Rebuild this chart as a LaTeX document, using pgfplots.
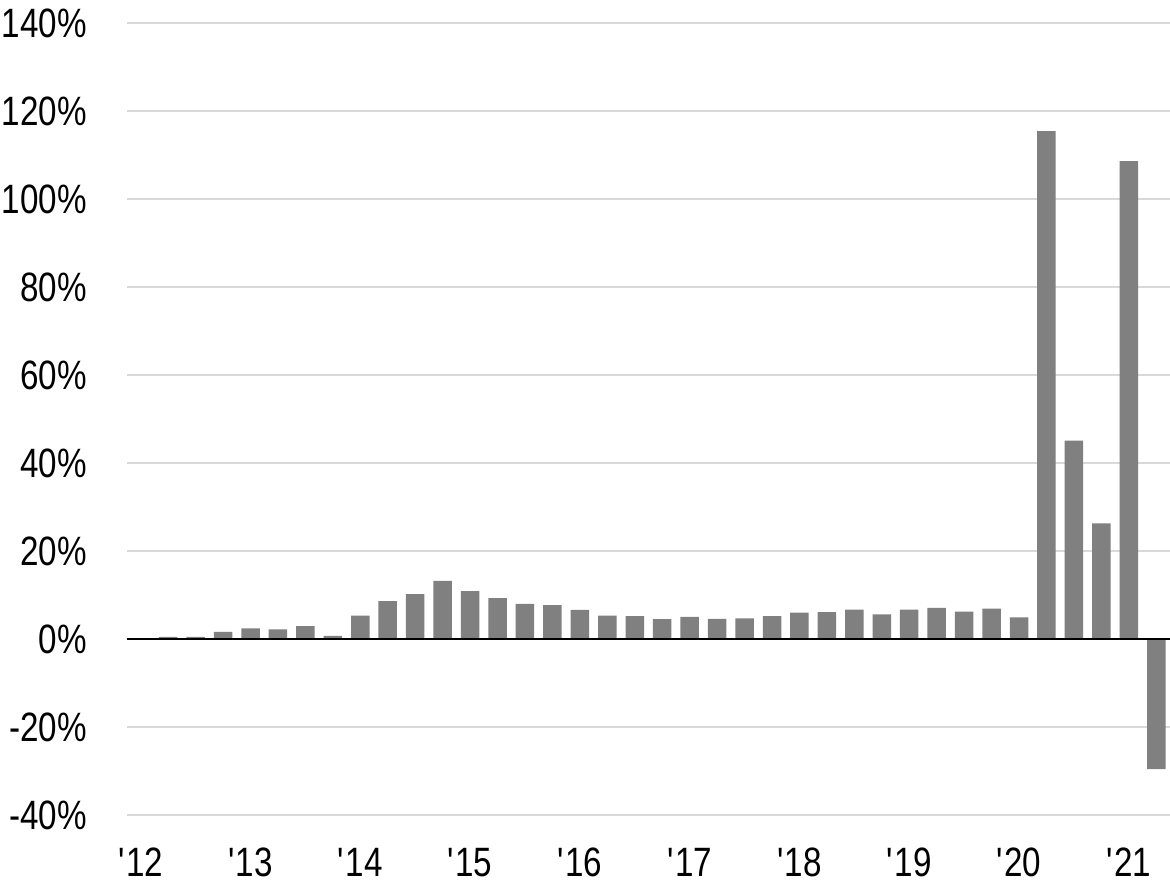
\documentclass[border=0pt]{standalone}
\usepackage{fontspec}
\setmainfont{Liberation Sans}[FakeStretch=0.81]
\usepackage{pgfplots}
\pgfplotsset{compat=1.18}
\definecolor{barGray}{RGB}{128,128,128}
\definecolor{gridGray}{RGB}{217,217,217}
\newcommand{\q}{\textquotesingle}
\begin{document}
\begin{tikzpicture}
\begin{axis}[
  at={(127bp,70bp)}, anchor=south west,
  scale only axis,
  width=1043bp, height=792bp,
  xmin=-0.5, xmax=37.5,
  ymin=-40, ymax=140,
  ytick={-40,-20,...,140},
  xtick={0,4,...,36},
  xticklabels={{\q12},{\q13},{\q14},{\q15},{\q16},{\q17},{\q18},{\q19},{\q20},{\q21}},
  axis x line*=bottom, axis y line*=left,
  axis line style={draw=none},
  tick style={draw=none},
  major tick length=0pt,
  ymajorgrids,
  grid style={gridGray, line width=1.6bp},
  /pgf/number format/assume math mode=true,
  tick label style={font=\fontsize{41bp}{49bp}\selectfont, inner sep=0pt},
  yticklabel={\pgfmathprintnumber{\tick}\%},
  yticklabel style={anchor=east, xshift=-40bp},
  xticklabel style={anchor=north, yshift=-33bp},
  clip=false,
]
\addplot[ybar, bar width=18.5bp, fill=barGray, draw=none] table[x=i, y=v] {
i v
0 0.2
1 0.5
2 0.5
3 1.6
4 2.4
5 2.2
6 2.9
7 0.7
8 5.3
9 8.6
10 10.2
11 13.2
12 10.9
13 9.3
14 8.0
15 7.7
16 6.6
17 5.3
18 5.2
19 4.5
20 5.0
21 4.6
22 4.7
23 5.2
24 6.0
25 6.1
26 6.7
27 5.6
28 6.7
29 7.1
30 6.2
31 6.9
32 4.9
33 115.4
34 45.1
35 26.3
36 108.6
37 -29.6
};
\draw[black, line width=2bp] (axis cs:-0.5,0) -- (axis cs:37.5,0);
\end{axis}
\pgfresetboundingbox
\path[use as bounding box] (0,0) rectangle (1170bp,885bp);
\end{tikzpicture}
\end{document}
